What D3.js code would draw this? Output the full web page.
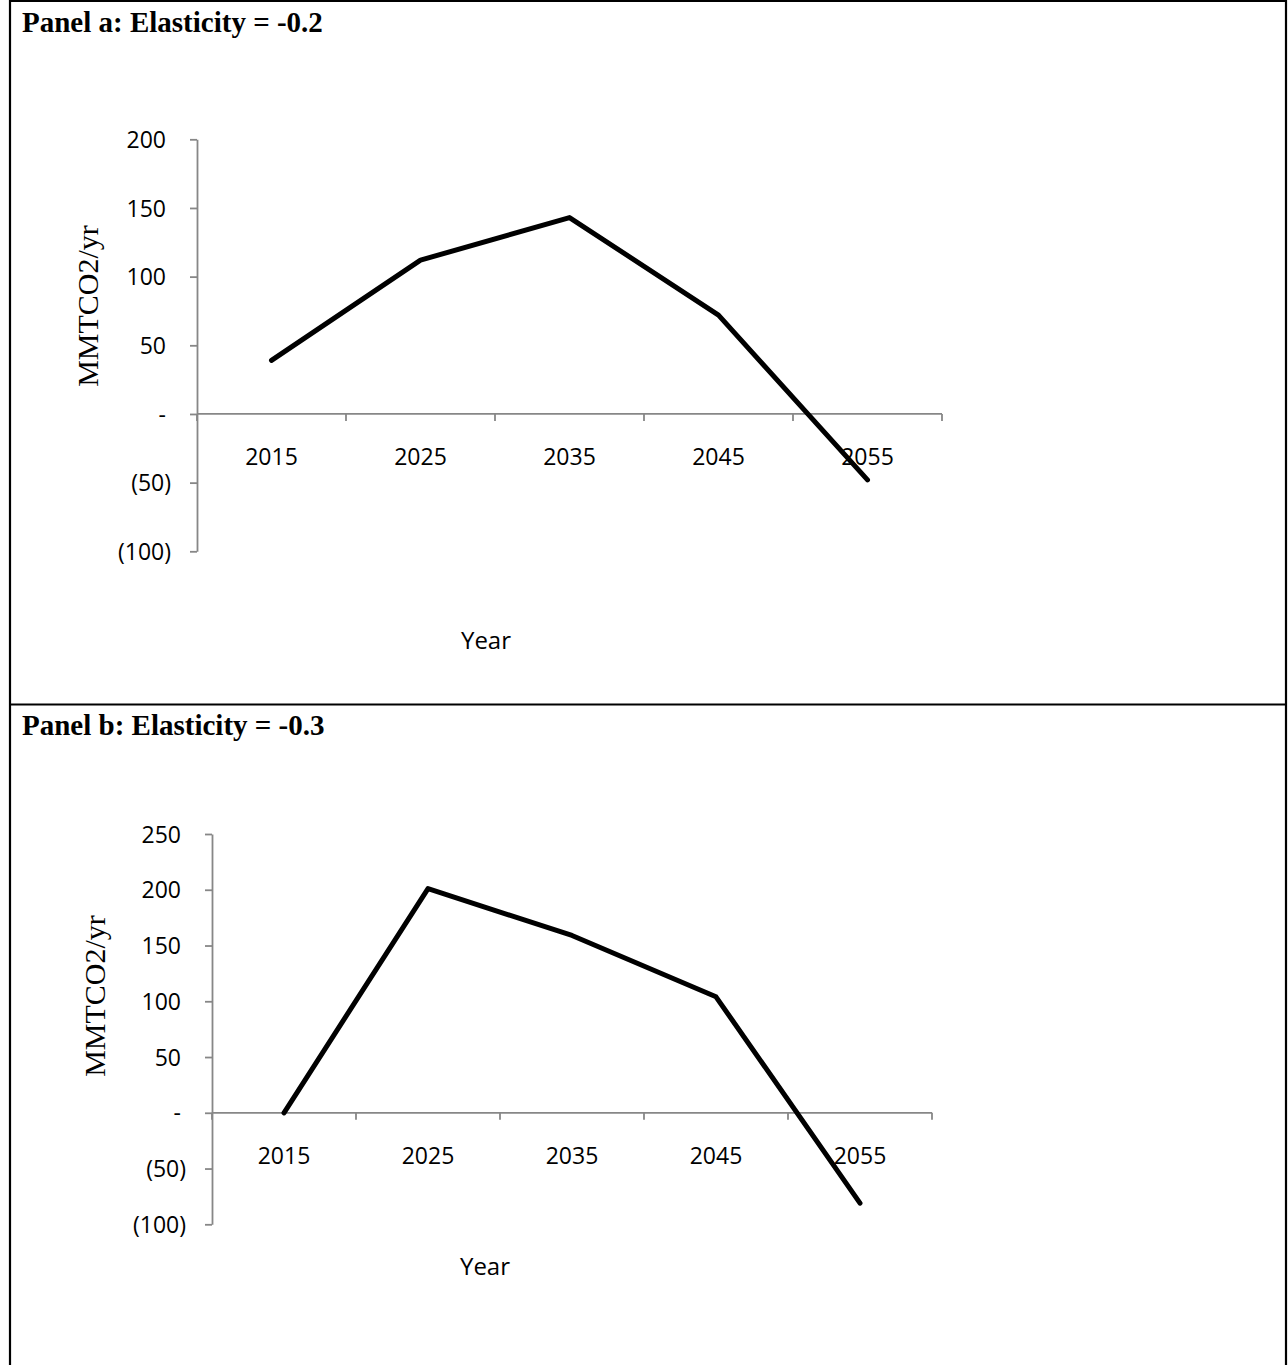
<!DOCTYPE html>
<html>
<head>
<meta charset="utf-8">
<script src="https://cdn.jsdelivr.net/npm/d3@7"></script>
<style>
  html, body { margin: 0; padding: 0; background: #fff; }
  svg { display: block; }
</style>
</head>
<body>
<svg id="chart" width="1288" height="1365"></svg>
<script>
// Years on the category axis (shared by both panels)
const years = ["2015", "2025", "2035", "2045", "2055"];

// Net emissions change, MMTCO2/yr
const panelAValues = [39, 112, 143, 72, -48];
const panelBValues = [0, 201, 159, 104, -81];

// Value-axis tick values for each panel
const panelATicks = [-100, -50, 0, 50, 100, 150, 200];
const panelBTicks = [-100, -50, 0, 50, 100, 150, 200, 250];

const panelTitles = ["Panel a: Elasticity = -0.2", "Panel b: Elasticity = -0.3"];
const yAxisTitle = "MMTCO2/yr";
const xAxisTitle = "Year";

const svg = d3.select("#chart");

// Table cell borders around the two panels
const border = svg.append("g").attr("stroke", "#000").attr("stroke-width", 2.2).attr("fill", "none");
border.append("line").attr("x1", 10).attr("x2", 10).attr("y1", 0).attr("y2", 1365);
border.append("line").attr("x1", 1286).attr("x2", 1286).attr("y1", 0).attr("y2", 1365);
border.append("line").attr("x1", 9).attr("x2", 1287).attr("y1", 1).attr("y2", 1);
border.append("line").attr("x1", 9).attr("x2", 1287).attr("y1", 704.5).attr("y2", 704.5);

// Accounting-style number format: negatives in parentheses, zero as a dash
function acct(v) {
  if (v === 0) return "-";
  if (v < 0) return "(" + d3.format(",")(-v) + ")";
  return d3.format(",")(v);
}

const tickFont = "'Open Sans', 'DejaVu Sans', sans-serif";
const serifFont = "'Liberation Serif', 'Times New Roman', serif";
const axisColor = "#878787";

function drawPanel(cfg) {
  const g = svg.append("g");

  g.append("text")
    .attr("x", 22).attr("y", cfg.titleY)
    .attr("font-family", serifFont)
    .attr("font-weight", "bold")
    .attr("font-size", 29)
    .text(cfg.title);

  const x = d3.scaleBand().domain(years).range([cfg.x0, cfg.x1]).padding(0);
  const y = d3.scaleLinear().domain([cfg.ticks[0], cfg.ticks[cfg.ticks.length - 1]]).range([cfg.yBottom, cfg.yTop]);

  // Value axis
  const yAxis = g.append("g")
    .attr("transform", `translate(${cfg.x0},0)`)
    .call(d3.axisLeft(y).tickValues(cfg.ticks).tickFormat(acct).tickSize(7).tickSizeOuter(0));
  yAxis.select(".domain").attr("stroke", axisColor).attr("stroke-width", 1.8);
  yAxis.selectAll(".tick line").attr("stroke", axisColor).attr("stroke-width", 1.8);
  yAxis.selectAll(".tick text")
    .attr("font-family", tickFont).attr("font-size", 23).attr("fill", "#000")
    .attr("x", d => d < 0 ? -26 : -31)
    .attr("dy", "0.35em");

  // Category axis drawn along the zero line, ticks at category boundaries
  const y0 = y(0);
  const xa = g.append("g").attr("transform", `translate(0,${y0})`);
  xa.append("line").attr("x1", cfg.x0).attr("x2", cfg.x1)
    .attr("stroke", axisColor).attr("stroke-width", 1.8);
  const bounds = years.map(d => x(d)).concat([cfg.x1]);
  xa.selectAll("line.tk").data(bounds).join("line").attr("class", "tk")
    .attr("x1", d => d).attr("x2", d => d).attr("y1", 0).attr("y2", 7)
    .attr("stroke", axisColor).attr("stroke-width", 1.8);
  xa.selectAll("text").data(years).join("text")
    .attr("x", d => x(d) + x.bandwidth() / 2)
    .attr("y", 43).attr("dy", "0.35em")
    .attr("text-anchor", "middle")
    .attr("font-family", tickFont).attr("font-size", 23)
    .text(d => d);

  // Axis titles
  g.append("text")
    .attr("transform", `translate(${cfg.yTitleX},${cfg.yTitleY}) rotate(-90)`)
    .attr("text-anchor", "middle").attr("dy", "0.35em")
    .attr("font-family", serifFont)
    .attr("font-size", 30)
    .text(yAxisTitle);
  g.append("text")
    .attr("x", cfg.xTitleX).attr("y", cfg.xTitleY).attr("dy", "0.35em")
    .attr("text-anchor", "middle")
    .attr("font-family", tickFont).attr("font-size", 24)
    .text(xAxisTitle);

  // Series line
  const line = d3.line()
    .x((d, i) => x(years[i]) + x.bandwidth() / 2)
    .y(d => y(d));
  g.append("path").datum(cfg.values)
    .attr("d", line)
    .attr("fill", "none").attr("stroke", "#000")
    .attr("stroke-width", 5).attr("stroke-linejoin", "round").attr("stroke-linecap", "round");
}

drawPanel({
  title: panelTitles[0], titleY: 32,
  values: panelAValues, ticks: panelATicks,
  x0: 197, x1: 942, yTop: 139.3, yBottom: 551.3,
  yTitleX: 87, yTitleY: 306, xTitleX: 486, xTitleY: 641
});

drawPanel({
  title: panelTitles[1], titleY: 735,
  values: panelBValues, ticks: panelBTicks,
  x0: 212, x1: 932, yTop: 834, yBottom: 1224.3,
  yTitleX: 94, yTitleY: 996, xTitleX: 485, xTitleY: 1267
});
</script>
</body>
</html>
